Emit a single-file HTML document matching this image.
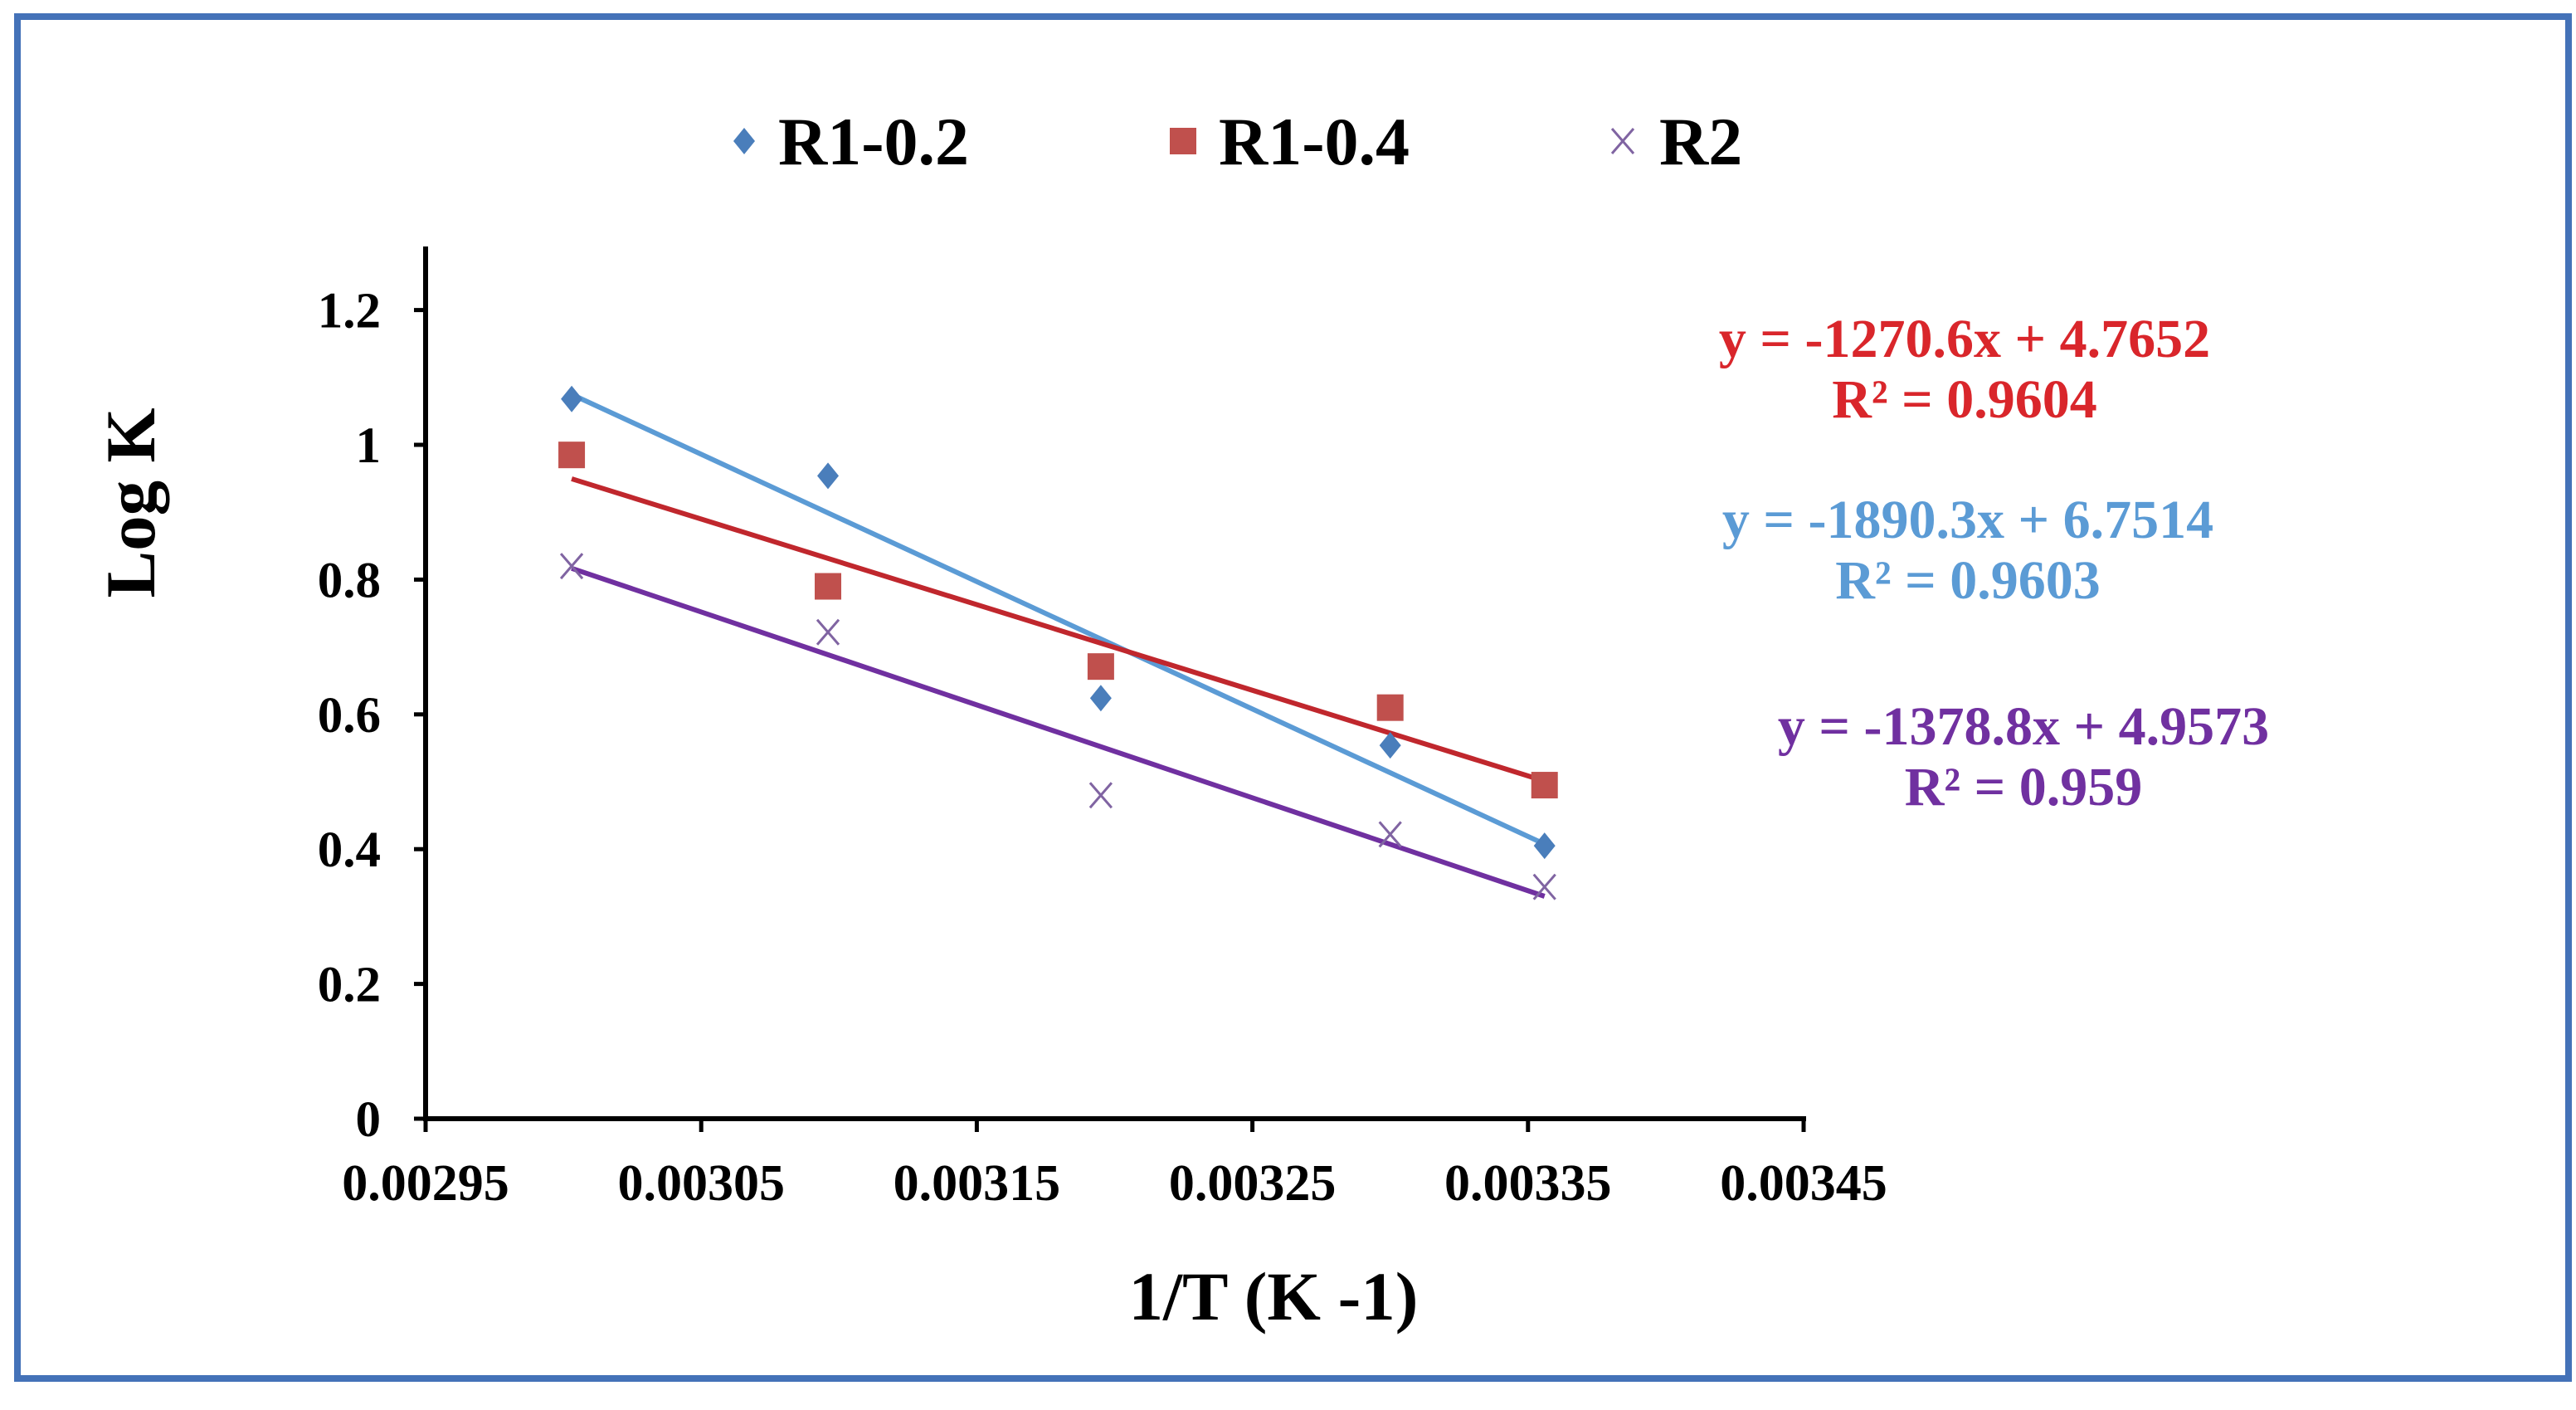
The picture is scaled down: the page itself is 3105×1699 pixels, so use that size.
<!DOCTYPE html>
<html><head><meta charset="utf-8"><style>
html,body{margin:0;padding:0;background:#fff;}
svg text{font-family:"Liberation Serif",serif;font-weight:bold;}
</style></head><body>
<svg id="chart" width="3105" height="1694" viewBox="0 0 3105 1694" xmlns="http://www.w3.org/2000/svg">
<rect x="21" y="20" width="3075" height="1641" fill="#fff" stroke="#4472b8" stroke-width="8"/>
<g id="plot"></g>
</svg>
<script>
const xValues=[0.003003,0.003096,0.003195,0.0033,0.003356];
const seriesNames=["R1-0.2","R1-0.4","R2"];
const r1_02=[1.068,0.954,0.624,0.554,0.405];
const r1_04=[0.985,0.79,0.671,0.61,0.495];
const r2=[0.82,0.722,0.48,0.422,0.344];
const slopes=[-1890.3,-1270.6,-1378.8];
const intercepts=[6.7514,4.7652,4.9573];
const xTicks=[0.00295,0.00305,0.00315,0.00325,0.00335,0.00345];
const xTickLabels=["0.00295","0.00305","0.00315","0.00325","0.00335","0.00345"];
const yTicks=[0,0.2,0.4,0.6,0.8,1,1.2];
const yTickLabels=["0","0.2","0.4","0.6","0.8","1","1.2"];

const NS="http://www.w3.org/2000/svg";
const g=document.getElementById('plot');
const X0=513,X1=2174,Y0=1348,PERY=812;
function sx(v){return X0+(v-0.00295)/0.0005*(X1-X0);}
function sy(v){return Y0-v*PERY;}
function mk(tag,attrs,parent){const e=document.createElementNS(NS,tag);for(const k in attrs)e.setAttribute(k,attrs[k]);(parent||g).appendChild(e);return e;}

let ax=mk('line',{x1:X0,y1:297,x2:X0,y2:Y0,stroke:'#000','stroke-width':6});


ax=mk('line',{x1:X0-3,y1:Y0,x2:X1+3,y2:Y0,stroke:'#000','stroke-width':6});


yTicks.forEach((v,i)=>{
  const t=mk('line',{x1:X0-14,y1:sy(v),x2:X0,y2:sy(v),stroke:'#000','stroke-width':5});
  
  
  const l=mk('text',{x:459,y:sy(v)+21,'text-anchor':'end','font-size':61,fill:'#000'});
  l.textContent=yTickLabels[i];
  
  
});
xTicks.forEach((v,i)=>{
  const t=mk('line',{x1:sx(v),y1:Y0,x2:sx(v),y2:Y0+16,stroke:'#000','stroke-width':5});
  
  
  const l=mk('text',{x:sx(v),y:1446,'text-anchor':'middle','font-size':62,fill:'#000'});
  l.textContent=xTickLabels[i];
  
  
});
let tt=mk('text',{x:1535,y:1590,'text-anchor':'middle','font-size':83,fill:'#000'});
tt.textContent='1/T (K -1)';


tt=mk('text',{x:0,y:0,'text-anchor':'middle','font-size':85,fill:'#000',transform:'translate(186,606) rotate(-90)'});
tt.textContent='Log K';



const lineColors=['#5b9bd5','#c0272d','#7030a0'];
[0,1,2].forEach(i=>{
  const xa=xValues[0],xb=xValues[xValues.length-1];
  const l=mk('line',{x1:sx(xa),y1:sy(slopes[i]*xa+intercepts[i]),x2:sx(xb),y2:sy(slopes[i]*xb+intercepts[i]),stroke:lineColors[i],'stroke-width':6});
  
  
});

function diamond(cx,cy,p){return mk('polygon',{points:`${cx},${cy-16} ${cx+13},${cy} ${cx},${cy+16} ${cx-13},${cy}`,fill:'#4a7ebb'},p);}
function square(cx,cy,p){return mk('rect',{x:cx-16,y:cy-16,width:32,height:32,fill:'#c0504d'},p);}
function cross(cx,cy,p){return mk('path',{d:`M${cx-13},${cy-15}L${cx+13},${cy+15}M${cx+13},${cy-15}L${cx-13},${cy+15}`,stroke:'#8064a2','stroke-width':3,fill:'none'},p);}
xValues.forEach((x,i)=>{
  let m=diamond(sx(x),sy(r1_02[i]));
  
  
  m=square(sx(x),sy(r1_04[i]));
  
  
  m=cross(sx(x),sy(r2[i]));
  
  
});

const legX=[897,1426,1956],legTX=[938,1469,2000];
const mkFns=[diamond,square,cross];
[0,1,2].forEach(i=>{
  const m=mkFns[i](legX[i],170);
  
  
  const t=mk('text',{x:legTX[i],y:198,'font-size':82,fill:'#000'});
  t.textContent=seriesNames[i];
  
  
});

const eqColors=['#5b9bd5','#d9262b','#7030a0'];
const eqX=[2372,2368,2439],eqY=[626,408,875];
[0,1,2].forEach(i=>{
  const r2txt=['0.9603','0.9604','0.959'][i];
  let t=mk('text',{x:eqX[i],y:eqY[i]+22,'text-anchor':'middle','font-size':66,fill:eqColors[i]});
  t.textContent='y = '+slopes[i].toFixed(1)+'x + '+intercepts[i].toFixed(4);
  
  
  t=mk('text',{x:eqX[i],y:eqY[i]+95,'text-anchor':'middle','font-size':66,fill:eqColors[i]});
  t.textContent='R² = '+r2txt;
  
  
});
</script>
</body></html>
